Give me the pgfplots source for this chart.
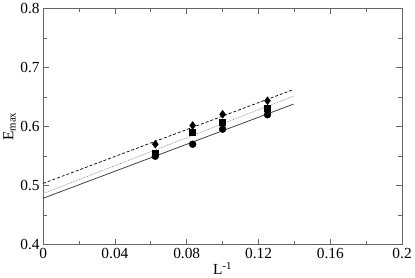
\documentclass[border=0pt]{standalone}
\usepackage{pgfplots}
\pgfplotsset{compat=1.18}
\usepackage{fontspec}
\setmainfont{Liberation Serif}
\begin{document}
\begin{tikzpicture}[x=1pt,y=1pt]
\begin{axis}[
  scale only axis,
  width=362pt, height=238pt,
  xmin=0, xmax=0.2, ymin=0.4, ymax=0.8,
  xtick={0,0.04,...,0.2},
  xticklabels={0,0.04,0.08,0.12,0.16,0.2},
  ytick={0.4,0.5,0.6,0.7,0.8},
  yticklabels={0.4,0.5,0.6,0.7,0.8},
  /pgf/number format/assume math mode=true,
  minor x tick num=1, minor y tick num=1,
  tick align=inside,
  major tick length=6pt, minor tick length=4pt,
  every tick/.style={gray!80!black, line width=0.8pt},
  axis line style={gray!80!black, line width=0.9pt},
  tick label style={font=\fontsize{15.5}{17}\selectfont},
  label style={font=\fontsize{15.5}{17}\selectfont},
  xlabel={L\textsuperscript{-1}},
  ylabel={E\textsubscript{max}},
  xlabel style={yshift=3pt},
  ylabel style={yshift=-2pt},
  clip=false,
]
\addplot[black, line width=0.7pt, dash pattern=on 3pt off 2pt] coordinates {(0,0.5036) (0.1395,0.6627)};
\addplot[gray, line width=0.7pt, densely dotted] coordinates {(0,0.4863) (0.1395,0.6515)};
\addplot[black!75, line width=0.8pt] coordinates {(0,0.4784) (0.1395,0.638)};
\addplot[only marks, mark=diamond*, mark size=4pt, black] coordinates {(0.0625,0.570) (0.0833,0.6017) (0.1,0.6207) (0.125,0.6437)};
\addplot[only marks, mark=square*, mark size=3pt, black] coordinates {(0.0625,0.555) (0.0833,0.590) (0.1,0.608) (0.125,0.631)};
\addplot[only marks, mark=*, mark size=3.5pt, black] coordinates {(0.0625,0.5496) (0.0833,0.570) (0.1,0.5955) (0.125,0.620)};
\end{axis}
\end{tikzpicture}
\end{document}
